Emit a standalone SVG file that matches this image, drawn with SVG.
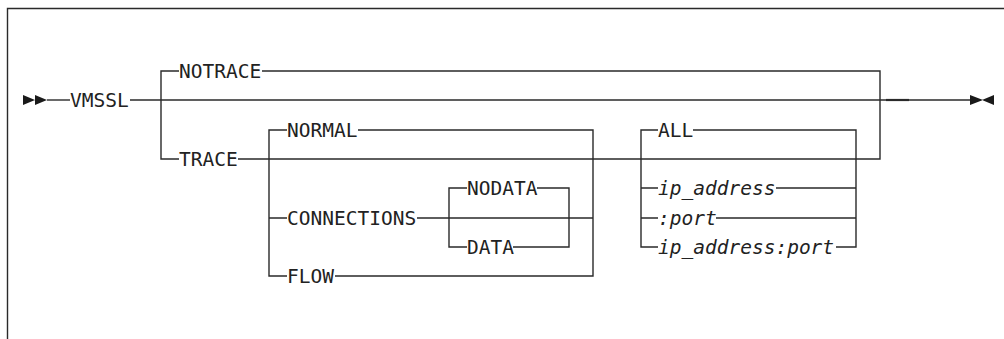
<svg xmlns="http://www.w3.org/2000/svg" width="1004" height="339" viewBox="0 0 1004 339">
<style>
.l{stroke:#2a2a2a;stroke-width:1.4;fill:none}
.t{font-family:"DejaVu Sans Mono","Liberation Mono",monospace;font-size:19.5px;fill:#222}
.i{font-style:italic}
.a{fill:#1a1a1a}
</style>
<rect width="1004" height="339" fill="#fff"/>
<g id="frame"><path class="l" d="M7.5,339 V8.5 H1004"/></g>
<g id="connectors">
<path class="a" d="M23,95 L35,100 L23,105 Z M35,95 L47,100 L35,105 Z"/>
<path class="l" d="M47,100 H70"/>
<path class="l" d="M130,100 H970"/>
<path class="l" d="M886,100 H909" style="stroke-width:2.2"/>
<path class="a" d="M970,95 L983,100 L970,105 Z M994,95 L982,100 L994,105 Z"/>
<path class="l" d="M179,71 H161 V159 H179"/>
<path class="l" d="M262,71 H880 V159 H238"/>
<path class="l" d="M287,130 H269 V276 H287 M269,218 H287"/>
<path class="l" d="M358,130 H593 V276 H335 M417,218 H593"/>
<path class="l" d="M467,188 H449 V247 H467"/>
<path class="l" d="M537,188 H569 V247 H513"/>
<path class="l" d="M658,130 H641 V247 H658 M641,188 H658 M641,218 H658"/>
<path class="l" d="M693,130 H856 V247 H836 M776,188 H856 M716,218 H856"/>
</g>
<g id="n-vmssl"><text class="t" x="70" y="107">VMSSL</text></g>
<g id="n-notrace"><text class="t" x="179" y="78">NOTRACE</text></g>
<g id="n-trace"><text class="t" x="179" y="166">TRACE</text></g>
<g id="n-normal"><text class="t" x="287" y="137">NORMAL</text></g>
<g id="n-connections"><text class="t" x="287" y="225">CONNECTIONS</text></g>
<g id="n-flow"><text class="t" x="287" y="283">FLOW</text></g>
<g id="n-nodata"><text class="t" x="467" y="195">NODATA</text></g>
<g id="n-data"><text class="t" x="467" y="254">DATA</text></g>
<g id="n-all"><text class="t" x="658" y="137">ALL</text></g>
<g id="n-ip"><text class="t i" x="658" y="195">ip_address</text></g>
<g id="n-port"><text class="t i" x="658" y="225">:port</text></g>
<g id="n-ipport"><text class="t i" x="658" y="254">ip_address:port</text></g>
</svg>
